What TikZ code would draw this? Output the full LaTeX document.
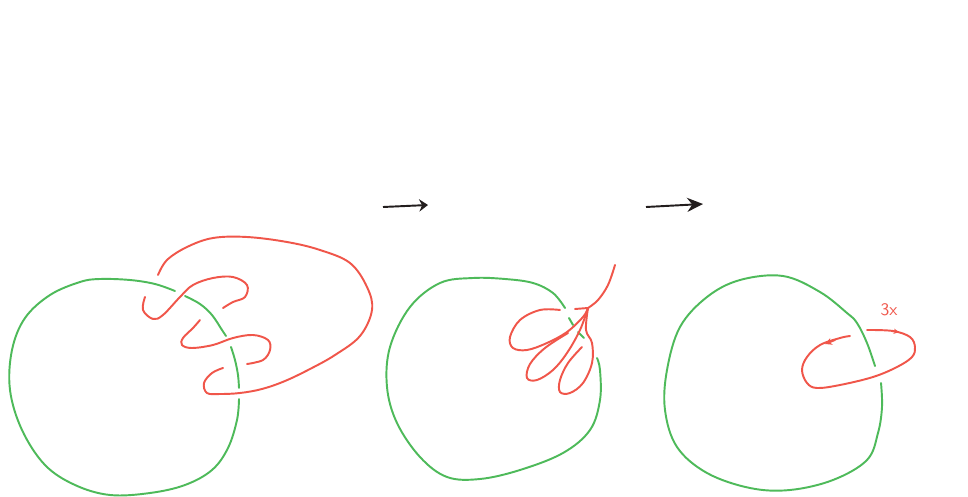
\documentclass[tikz,border=0pt]{standalone}
\usetikzlibrary{arrows.meta}
\definecolor{knotgreen}{RGB}{78,186,90}
\definecolor{knotred}{RGB}{240,86,74}
\definecolor{pen}{RGB}{35,30,30}

\begin{document}
\begin{tikzpicture}[
    x=0.02cm, y=-0.02cm,
    grn/.style={draw=knotgreen, line width=1.1pt, line cap=round},
    rd/.style={draw=knotred, line width=1.1pt, line cap=round},
    arr/.style={draw=pen, line width=1.1pt}
]
    \useasboundingbox[fill=white] (0,0) rectangle (968,497);

    % Panel 1: circle with the red strand wound through it
    \draw[grn] plot[smooth, tension=0.6] coordinates {(185,296) (200,304) (212,315) (222,330) (226,336)};
    \draw[grn] plot[smooth, tension=0.6] coordinates {(231,347) (235,360) (238,375) (239,388)};
    \draw[grn] plot[smooth, tension=0.6] coordinates {(239,399) (237,420) (228,448) (212,470) (185,485) (150,493) (110,495) (75,485) (45,465) (22,430) (10,390) (12,350) (25,318) (50,295) (80,282) (100,279) (130,280) (155,284) (175,291)};

    \draw[rd] plot[smooth, tension=0.6] coordinates {(145,297) (143,310) (153,319) (163,315) (180,297) (193,285) (213,278) (233,277) (247,285) (245,297) (233,302) (223,308)};
    \draw[rd] plot[smooth, tension=0.6] coordinates {(200,320) (193,328) (183,338) (182,345) (192,348) (213,345) (233,338) (253,335) (268,340) (270,350) (263,360) (247,364)};
    \draw[rd] plot[smooth, tension=0.6] coordinates {(223,368) (212,373) (204,383) (207,393) (220,394) (240,393) (262,389) (285,381) (310,369) (335,355) (360,336) (372,310) (367,287) (350,263) (320,250) (287,242) (247,237) (213,238) (187,247) (167,260) (158,275)};

    % Arrow 1
    \coordinate (a1s) at (383,207);
    \coordinate (a1e) at (428,205);
    \draw[arr, -{Stealth[length=5pt, width=7pt]}] (a1s) -- (a1e);

    % Panel 2: the strand pulled into three leaves
    \draw[grn] plot[smooth, tension=0.6] coordinates {(565,308) (553,293) (533,283) (505,279) (473,278) (440,283) (410,307) (390,347) (387,387) (397,423) (420,457) (447,477) (480,479) (520,470) (563,453) (590,430) (600,400) (600,370) (597,358)};
    \draw[grn] (569,318) -- (573,325);
    \draw[grn] (578,332) -- (584,338);

    \draw[rd] plot[smooth, tension=0.6] coordinates {(615,265) (608,285) (598,300) (588,308)};
    \draw[rd] (575,309) -- (588,308);
    \draw[rd] plot[smooth, tension=0.6] coordinates {(560,310) (540,310) (520,320) (510,337) (513,348) (527,350) (547,343) (567,332) (583,317) (588,308)};
    \draw[rd] plot[smooth, tension=0.6] coordinates {(568,333) (545,348) (530,364) (527,378) (537,380) (553,370) (567,353) (580,330) (588,308)};
    \draw[rd] plot[smooth, tension=0.6] coordinates {(582,347) (568,363) (560,380) (560,392) (570,393) (583,383) (592,363) (592,343) (586,330) (588,308)};

    % Arrow 2
    \coordinate (a2s) at (646,207);
    \coordinate (a2e) at (703,204);
    \draw[arr, -{Stealth[length=9pt, width=8pt]}] (a2s) -- (a2e);

    % Panel 3: one loop, three times round
    \draw[grn] plot[smooth, tension=0.6] coordinates {(875,366) (867,343) (857,323) (847,313) (820,292) (783,276) (740,280) (707,297) (680,327) (667,370) (665,410) (677,447) (707,473) (750,488) (790,490) (833,480) (867,460) (878,433) (882,407) (881,383)};

    \draw[rd] plot[smooth, tension=0.6] coordinates {(867,330) (893,331) (910,337) (915,347) (912,357) (897,367) (873,377) (840,385) (817,388) (807,383) (802,370) (807,357) (820,345) (840,338) (850,336)};
    \draw[rd, -{Stealth[length=4pt, width=4pt]}] (835,340) -- (825,344);
    \draw[rd, -{Stealth[length=3pt, width=3pt]}] (892,331) -- (899,332);
    \node[text=knotred, font=\sffamily] (mult) at (889,310) {3x};
\end{tikzpicture}
\end{document}
